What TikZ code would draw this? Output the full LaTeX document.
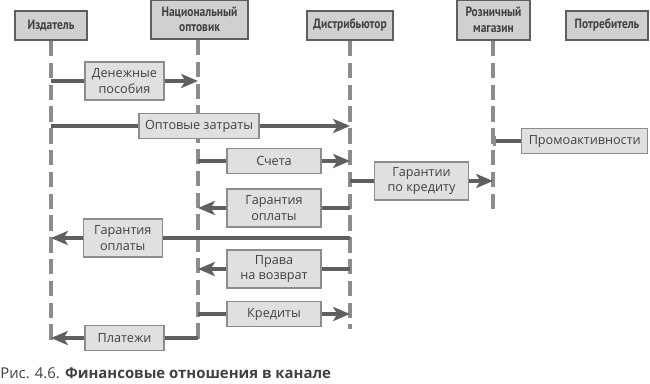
\documentclass[tikz,border=0pt]{standalone}
\usepackage{fontspec}
\setmainfont{Open Sans}
\newfontfamily\headfont[FakeStretch=0.85]{PT Sans}
\usetikzlibrary{arrows.meta, positioning}

\definecolor{lifegray}{RGB}{140,140,140}
\definecolor{arrowgray}{RGB}{95,95,95}
\definecolor{boxfill}{RGB}{224,224,224}
\definecolor{headfill}{RGB}{208,208,208}
\definecolor{textgray}{RGB}{65,65,65}

\begin{document}
\begin{tikzpicture}[
    x=0.025cm, y=-0.025cm,
    >={Stealth[length=12pt,width=10pt,inset=3pt]},
    actor/.style={draw=arrowgray, fill=headfill, line width=1.6pt, anchor=south,
        font=\headfont\bfseries\fontsize{9.6}{11}\selectfont, text=textgray,
        align=center, inner sep=1pt, minimum height=0.725cm},
    lifeline/.style={draw=lifegray, line width=3pt, dash pattern=on 11pt off 4.5pt},
    msg/.style={draw=arrowgray, line width=2.2pt, {Bar[width=7pt,line width=2pt,color=lifegray]}-},
    lbl/.style={draw=lifegray, fill=boxfill, line width=1pt, font=\fontsize{9}{11}\selectfont,
        text=textgray, align=center, inner sep=1pt, minimum height=0.625cm}
]
    \useasboundingbox (0,0) rectangle (650,383);

    % участники канала
    \node[actor, minimum width=1.8cm]   (izd) at (51,41)    {Издатель};
    \node[actor, minimum width=2.425cm, minimum height=0.975cm] (opt) at (199.5,40) {Национальный\\оптовик};
    \node[actor, minimum width=2.15cm]  (dis) at (350,41)   {Дистрибьютор};
    \node[actor, minimum width=1.825cm, minimum height=1cm] (roz) at (493.5,41) {Розничный\\магазин};
    \node[actor, minimum width=2.05cm]  (pot) at (607,41)   {Потребитель};

    \coordinate (izd-end) at (51,345);
    \coordinate (opt-end) at (198,343);
    \coordinate (dis-end) at (350,329);
    \coordinate (roz-end) at (493,212);

    \draw[lifeline] (izd) -- (izd-end);
    \draw[lifeline] (opt.south -| opt-end) -- (opt-end);
    \draw[lifeline] (dis) -- (dis-end);
    \draw[lifeline] (roz.south -| roz-end) -- (roz-end);

    % строки сообщений
    \coordinate (r1) at (0,81);
    \coordinate (r2) at (0,126);
    \coordinate (r3) at (0,141);
    \coordinate (r4) at (0,161);
    \coordinate (r5) at (0,181);
    \coordinate (r6) at (0,208);
    \coordinate (r7) at (0,238);
    \coordinate (r8) at (0,269);
    \coordinate (r9) at (0,314);
    \coordinate (r10) at (0,338);

    \draw[msg, ->] (izd |- r1) -- node[lbl, minimum width=1.975cm, minimum height=0.95cm] {Денежные\\пособия} (opt-end |- r1);
    \draw[msg, ->] (izd |- r2) -- node[lbl, minimum width=3cm, pos=0.495] {Оптовые затраты} (dis-end |- r2);
    \node[lbl, minimum width=3.15cm, anchor=west] (promo) at (521,141) {Промоактивности};
    \draw[msg] (roz-end |- r3) -- (promo);
    \draw[msg, ->] (opt-end |- r4) -- node[lbl, minimum width=2.35cm] {Счета} (dis-end |- r4);
    \draw[msg, ->] (dis-end |- r5) -- node[lbl, minimum width=2.35cm, minimum height=0.95cm] {Гарантии\\по кредиту} (roz-end |- r5);
    \draw[msg, ->] (dis-end |- r6) -- node[lbl, minimum width=2.35cm, minimum height=0.95cm] {Гарантия\\оплаты} (opt-end |- r6);
    \draw[msg, ->] (dis-end |- r7) -- node[lbl, minimum width=1.975cm, minimum height=0.95cm, pos=0.76] {Гарантия\\оплаты} (izd-end |- r7);
    \draw[msg, ->] (dis-end |- r8) -- node[lbl, minimum width=2.35cm, minimum height=0.95cm] {Права\\на возврат} (opt-end |- r8);
    \draw[msg, ->] (opt-end |- r9) -- node[lbl, minimum width=2.35cm] {Кредиты} (dis-end |- r9);
    \draw[msg, ->] (opt-end |- r10) -- node[lbl, minimum width=1.975cm] {Платежи} (izd-end |- r10);

    % подпись
    \node[anchor=base west, inner sep=0pt, text=textgray, font=\fontsize{10.6}{12}\selectfont] (cap) at (0,378)
        {Рис. 4.6. \textbf{Финансовые отношения в канале}};
\end{tikzpicture}
\end{document}
